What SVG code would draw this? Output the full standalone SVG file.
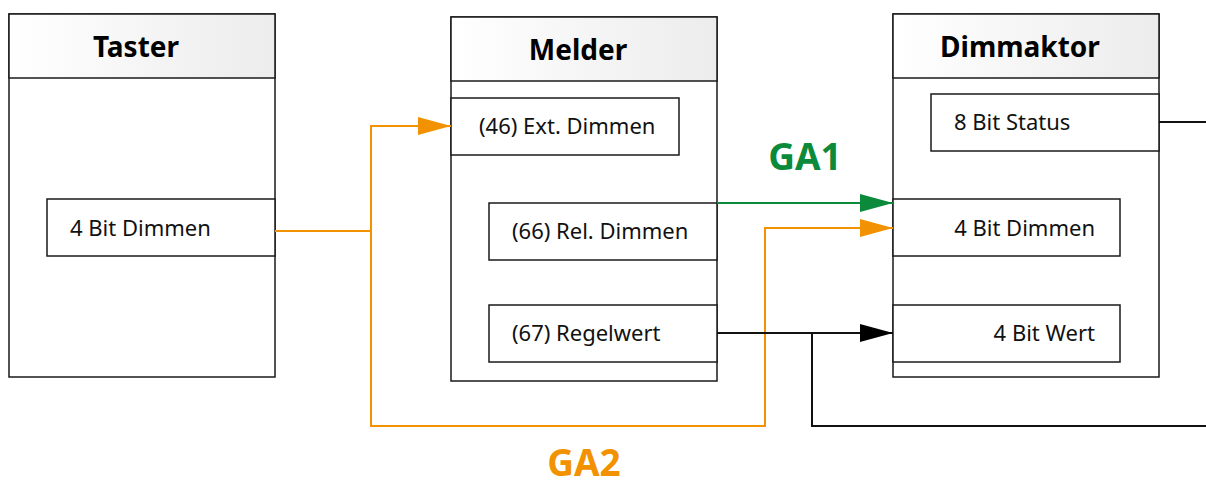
<svg xmlns="http://www.w3.org/2000/svg" width="1206" height="486" viewBox="0 0 1206 486">
<style>
.box{fill:#fff;stroke:#1a1a1a;stroke-width:1.5}
.hdr{fill:url(#hg);stroke:#1a1a1a;stroke-width:1.5}
.port{fill:#fff;stroke:#1a1a1a;stroke-width:1.5}
.title{font-family:"Noto Sans",sans-serif;font-weight:bold;font-size:28px;fill:#000;text-anchor:middle}
.lbl{font-family:"Noto Sans",sans-serif;font-size:22px;fill:#111}
.ga{font-family:"Noto Sans",sans-serif;font-weight:bold;font-size:37px;text-anchor:middle}
.or{fill:none;stroke:#f39200;stroke-width:2}
.gr{fill:none;stroke:#0a8a3a;stroke-width:2}
.bk{fill:none;stroke:#111;stroke-width:2}
</style>
<defs>
<linearGradient id="hg" x1="0" y1="0" x2="1" y2="0">
<stop offset="0" stop-color="#ffffff"/>
<stop offset="1" stop-color="#ececec"/>
</linearGradient>
<marker id="ao" markerWidth="33" markerHeight="18" refX="33" refY="9" orient="auto" markerUnits="userSpaceOnUse"><path d="M0,0 L33,9 L0,18 Z" fill="#f39200"/></marker>
<marker id="ag" markerWidth="33" markerHeight="18" refX="33" refY="9" orient="auto" markerUnits="userSpaceOnUse"><path d="M0,0 L33,9 L0,18 Z" fill="#0a8a3a"/></marker>
<marker id="ab" markerWidth="33" markerHeight="18" refX="33" refY="9" orient="auto" markerUnits="userSpaceOnUse"><path d="M0,0 L33,9 L0,18 Z" fill="#000"/></marker>
</defs>

<g id="taster">
<rect class="box" x="9" y="14" width="266" height="363"/>
<rect class="hdr" x="9" y="14" width="266" height="64"/>
<text class="title" x="136" y="57">Taster</text>
<rect class="port" x="47" y="199" width="228" height="57"/>
<text class="lbl" x="70" y="236">4 Bit Dimmen</text>
</g>

<g id="melder">
<rect class="box" x="451" y="17" width="266" height="364"/>
<rect class="hdr" x="451" y="17" width="266" height="64"/>
<text class="title" x="578" y="60">Melder</text>
<rect class="port" x="451" y="98" width="228" height="57"/>
<text class="lbl" x="479" y="134">(46) Ext. Dimmen</text>
<rect class="port" x="489" y="203" width="228" height="57"/>
<text class="lbl" x="512" y="239">(66) Rel. Dimmen</text>
<rect class="port" x="489" y="305" width="228" height="57"/>
<text class="lbl" x="512" y="341">(67) Regelwert</text>
</g>

<g id="dimmaktor">
<rect class="box" x="893" y="14" width="266" height="363"/>
<rect class="hdr" x="893" y="14" width="266" height="64"/>
<text class="title" x="1020" y="57">Dimmaktor</text>
<rect class="port" x="931" y="94" width="228" height="57"/>
<text class="lbl" x="954" y="130">8 Bit Status</text>
<rect class="port" x="893" y="199" width="227" height="57"/>
<text class="lbl" x="1095" y="236" text-anchor="end">4 Bit Dimmen</text>
<rect class="port" x="893" y="305" width="227" height="57"/>
<text class="lbl" x="1095" y="341" text-anchor="end">4 Bit Wert</text>
</g>

<g id="connectors">
<path class="or" d="M275,231 H371 V126 H451" marker-end="url(#ao)"/>
<path class="or" d="M371,231 V426 H765 V228 H893" marker-end="url(#ao)"/>
<path class="gr" d="M717,203 H893" marker-end="url(#ag)"/>
<path class="bk" d="M717,333 H893" marker-end="url(#ab)"/>
<path class="bk" d="M812,333 V426 H1206"/>
<path class="bk" d="M1159,122 H1206"/>
</g>

<g id="labels">
<text class="ga" x="805" y="170" fill="#0a8a3a">GA1</text>
<text class="ga" x="584" y="476" fill="#f39200">GA2</text>
</g>
</svg>
